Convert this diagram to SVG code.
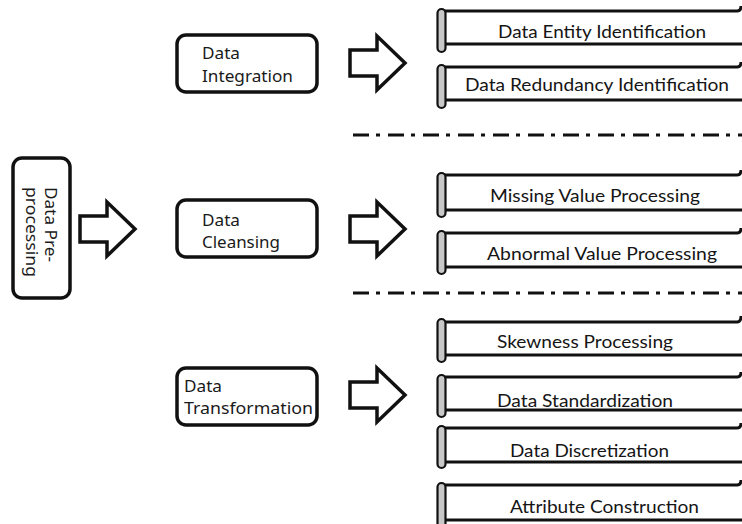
<svg xmlns="http://www.w3.org/2000/svg" width="742" height="524" viewBox="0 0 742 524">
<style>
.box{fill:#fff;stroke:#111;stroke-width:3.5}
.arrow{fill:#fff;stroke:#111;stroke-width:3.5;stroke-linejoin:miter}
.lt{font-family:"Noto Sans","Liberation Sans",sans-serif;font-size:16.5px;fill:#1a1a1a}
.st{font-family:Lato,"Liberation Sans",sans-serif;font-size:17px;fill:#151515}
.line{stroke:#111;stroke-width:3;fill:none}
.curl{fill:#c8c8c8;stroke:#111;stroke-width:2.2}
.sep{stroke:#111;stroke-width:3;stroke-dasharray:16 7 4 8;fill:none}
</style>
<defs>
<path id="arr" class="arrow" d="M0,-13 H27 V-27 L55,0 L27,27 V13 H0 Z"/>
</defs>

<g id="node-preprocessing">
<rect class="box" x="13" y="158" width="57" height="140" rx="9"/>
<text class="lt" transform="translate(45,187) rotate(90)" textLength="75" lengthAdjust="spacingAndGlyphs">Data Pre-</text>
<text class="lt" transform="translate(26,187) rotate(90)" textLength="90" lengthAdjust="spacingAndGlyphs">processing</text>
</g>

<g id="node-integration">
<rect class="box" x="177" y="35" width="140" height="57" rx="9"/>
<text class="lt" x="202" y="59" textLength="38" lengthAdjust="spacingAndGlyphs">Data</text>
<text class="lt" x="202" y="82" textLength="91" lengthAdjust="spacingAndGlyphs">Integration</text>
</g>

<g id="node-cleansing">
<rect class="box" x="177" y="200" width="140" height="57" rx="9"/>
<text class="lt" x="202" y="226" textLength="38" lengthAdjust="spacingAndGlyphs">Data</text>
<text class="lt" x="202" y="248" textLength="78" lengthAdjust="spacingAndGlyphs">Cleansing</text>
</g>

<g id="node-transformation">
<rect class="box" x="177" y="368" width="140" height="57" rx="9"/>
<text class="lt" x="184" y="392" textLength="38" lengthAdjust="spacingAndGlyphs">Data</text>
<text class="lt" x="184" y="414" textLength="129" lengthAdjust="spacingAndGlyphs">Transformation</text>
</g>

<g id="connectors">
<use href="#arr" transform="translate(80,229)"/>
<use href="#arr" transform="translate(350,63)"/>
<use href="#arr" transform="translate(350,229)"/>
<use href="#arr" transform="translate(350,395)"/>
<line class="sep" x1="353" y1="135" x2="742" y2="135"/>
<line class="sep" x1="353" y1="293" x2="742" y2="293"/>
</g>

<g id="scroll-entity">
<path class="line" d="M439,11 H737 Q741,11 741,6 M445,44 H742"/>
<rect class="curl" x="437.5" y="9" width="8" height="43" rx="4"/>
<text class="st" x="498" y="38" textLength="208" lengthAdjust="spacingAndGlyphs">Data Entity Identification</text>
</g>
<g id="scroll-redundancy">
<path class="line" d="M439,67 H737 Q741,67 741,62 M445,100 H742"/>
<rect class="curl" x="437.5" y="65" width="8" height="43" rx="4"/>
<text class="st" x="465" y="91" textLength="264" lengthAdjust="spacingAndGlyphs">Data Redundancy Identification</text>
</g>
<g id="scroll-missing">
<path class="line" d="M439,175 H737 Q741,175 741,170 M445,210 H742"/>
<rect class="curl" x="437.5" y="173" width="8" height="44" rx="4"/>
<text class="st" x="490" y="202" textLength="210" lengthAdjust="spacingAndGlyphs">Missing Value Processing</text>
</g>
<g id="scroll-abnormal">
<path class="line" d="M439,233 H737 Q741,233 741,228 M445,267 H742"/>
<rect class="curl" x="437.5" y="231" width="8" height="43" rx="4"/>
<text class="st" x="487" y="260" textLength="230" lengthAdjust="spacingAndGlyphs">Abnormal Value Processing</text>
</g>
<g id="scroll-skewness">
<path class="line" d="M439,322 H737 Q741,322 741,316 M445,355 H742"/>
<rect class="curl" x="437.5" y="319" width="8" height="43" rx="4"/>
<text class="st" x="497" y="348" textLength="176" lengthAdjust="spacingAndGlyphs">Skewness Processing</text>
</g>
<g id="scroll-standardization">
<path class="line" d="M439,377 H737 Q741,377 741,372 M445,410 H742"/>
<rect class="curl" x="437.5" y="375" width="8" height="42" rx="4"/>
<text class="st" x="497" y="407" textLength="176" lengthAdjust="spacingAndGlyphs">Data Standardization</text>
</g>
<g id="scroll-discretization">
<path class="line" d="M439,428 H737 Q741,428 741,423 M445,462 H742"/>
<rect class="curl" x="437.5" y="426" width="8" height="42" rx="4"/>
<text class="st" x="510" y="457" textLength="159" lengthAdjust="spacingAndGlyphs">Data Discretization</text>
</g>
<g id="scroll-attribute">
<path class="line" d="M439,485 H737 Q741,485 741,480 M445,520 H742"/>
<rect class="curl" x="437.5" y="483" width="8" height="46" rx="4"/>
<text class="st" x="510" y="513" textLength="189" lengthAdjust="spacingAndGlyphs">Attribute Construction</text>
</g>
</svg>
